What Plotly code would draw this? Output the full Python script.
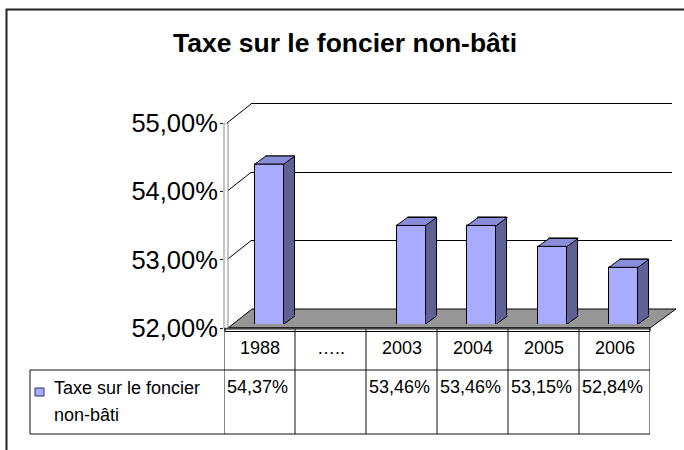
import plotly.graph_objects as go

# ---------------- data ----------------
TITLE = "Taxe sur le foncier non-bâti"
SERIES_NAME = "Taxe sur le foncier non-bâti"
LEGEND_LINES = ["Taxe sur le foncier", "non-bâti"]
CATEGORIES = ["1988", "…..", "2003", "2004", "2005", "2006"]
VALUES = [54.37, None, 53.46, 53.46, 53.15, 52.84]
Y_TICKS = [52, 53, 54, 55]
Y_MIN, Y_MAX = 52, 55


def pct(v):
    return f"{v:.2f}".replace(".", ",") + "%"


Y_TICKTEXT = [pct(v) for v in Y_TICKS]

# ---------------- style / geometry (pixels) ----------------
W, H = 684, 450
def fx(p): return p / W
def fy(p): return 1 - p / H

FONT = "Liberation Sans, Arial, sans-serif"
FRONT_COLOR = "#A9ABFE"
TOP_COLOR = "#8A8DDA"
SIDE_COLOR = "#5F6094"
FLOOR_COLOR = "#969696"

AX_L, AX_R = 224, 650          # front category axis / table columns
AX_TOP, AX_BOT = 123, 328      # front value axis (55% / 52%)
WALL_DX, WALL_DY = 24, 19      # depth of the back wall
WALL_R = 672
PAD = 0.1                      # small range pad so the top gridline is kept
PX_UNIT = (AX_BOT - AX_TOP) / (Y_MAX - Y_MIN)
BAR_L, BAR_R = 234, 659        # plane of the bars
BAR_TOP, BAR_BOT = 121.5, 324
BAR_DX, BAR_DY = 11, 8         # bar depth
BAR_W = 0.41
n = len(CATEGORIES)
HW = BAR_W * (BAR_R - BAR_L) / n / 2
TH_TOP, TR_TOP, T_BOT = 329, 370, 434
T_LEFT = 30

fig = go.Figure()

fig.add_trace(go.Scatter(x=[0], y=[53], xaxis="x", yaxis="y", showlegend=False,
                         mode="markers", marker=dict(opacity=0), hoverinfo="skip"))
fig.add_trace(go.Scatter(x=[0.5], y=[53], xaxis="x2", yaxis="y2", showlegend=False,
                         mode="markers", marker=dict(opacity=0), hoverinfo="skip"))

# back copy of bars (gives the side face), then front faces
fig.add_trace(go.Bar(x=list(range(n)), y=VALUES, width=BAR_W, xaxis="x3", yaxis="y3",
                     marker=dict(color=SIDE_COLOR, line=dict(color="black", width=1)),
                     showlegend=False, hoverinfo="skip"))
fig.add_trace(go.Bar(x=list(range(n)), y=VALUES, width=BAR_W, xaxis="x4", yaxis="y4",
                     name=SERIES_NAME,
                     marker=dict(color=FRONT_COLOR, line=dict(color="black", width=1)),
                     showlegend=False))

shapes = []
# outer frame
shapes.append(dict(type="rect", xref="paper", yref="paper", x0=fx(6.5), y0=fy(9.5),
                   x1=fx(W + 5), y1=fy(H + 5), line=dict(color="#222", width=2),
                   fillcolor="rgba(0,0,0,0)", layer="below"))
# floor
floor_path = (f"M{fx(AX_L+4)},{fy(AX_BOT)} L{fx(AX_R)},{fy(AX_BOT)} "
              f"L{fx(AX_R+WALL_DX+2)},{fy(AX_BOT-WALL_DY)} L{fx(AX_L+WALL_DX+4)},{fy(AX_BOT-WALL_DY)} Z")
shapes.append(dict(type="path", xref="paper", yref="paper", path=floor_path,
                   fillcolor=FLOOR_COLOR, line=dict(color="black", width=1), layer="below"))
shapes.append(dict(type="rect", xref="paper", yref="paper", x0=fx(AX_L+1), x1=fx(AX_R),
                   y0=fy(AX_BOT), y1=fy(AX_BOT+3.5), fillcolor="white",
                   line=dict(color="black", width=1), layer="below"))
# diagonal grid links front value axis -> back wall (positions in the value axis' domain)
DEPTH_FRAC = WALL_DY / (AX_BOT - AX_TOP)
for v in Y_TICKS[1:]:
    frac = (v - Y_MIN) / (Y_MAX - Y_MIN)
    shapes.append(dict(type="line", xref="paper", yref="y domain",
                       x0=fx(AX_L + 3), x1=fx(AX_L + 3 + WALL_DX),
                       y0=frac, y1=frac + DEPTH_FRAC,
                       line=dict(color="black", width=1), layer="above"))
# front value axis (double line)
shapes.append(dict(type="rect", xref="paper", yref="y", x0=fx(AX_L), x1=fx(AX_L+4),
                   y0=Y_MIN, y1=Y_MAX, fillcolor="white",
                   line=dict(color="#8a8a8a", width=1), layer="above"))

# 3D faces of bars
for i, v in enumerate(VALUES):
    if v is None:
        continue
    shapes.append(dict(type="path", xref="x4", yref="y4", xsizemode="pixel", ysizemode="pixel",
                       xanchor=i, yanchor=v,
                       path=f"M{-HW},0 L{HW},0 L{HW+BAR_DX},{BAR_DY} L{-HW+BAR_DX},{BAR_DY} Z",
                       fillcolor=TOP_COLOR, line=dict(color="black", width=1), layer="above"))
    shapes.append(dict(type="path", xref="x4", yref="y4", xsizemode="pixel", ysizemode="pixel",
                       xanchor=i, yanchor=Y_MIN,
                       path=f"M{HW},0 L{HW+BAR_DX},{BAR_DY} L{HW+BAR_DX},{BAR_DY+1} L{HW},{BAR_DY+1} Z",
                       fillcolor=SIDE_COLOR, line=dict(width=0), layer="above"))
    shapes.append(dict(type="path", xref="x4", yref="y4", xsizemode="pixel", ysizemode="pixel",
                       xanchor=i, yanchor=Y_MIN,
                       path=f"M{HW},0 L{HW+BAR_DX},{BAR_DY}",
                       line=dict(color="black", width=1), layer="above"))

# data table
TL = dict(color="#111", width=1)
shapes.append(dict(type="line", xref="x", yref="paper", x0=-0.5, x1=n - 0.5,
                   y0=fy(TH_TOP), y1=fy(TH_TOP), line=TL))
for k in range(n + 1):
    b = k - 0.5
    shapes.append(dict(type="line", xref="x", yref="paper", x0=b, x1=b,
                       y0=fy(TH_TOP), y1=fy(T_BOT), line=TL))
for yy in (TR_TOP, T_BOT):
    shapes.append(dict(type="line", xref="paper", yref="paper", x0=fx(T_LEFT), x1=fx(AX_R),
                       y0=fy(yy), y1=fy(yy), line=TL))
shapes.append(dict(type="line", xref="paper", yref="paper", x0=fx(T_LEFT), x1=fx(T_LEFT),
                   y0=fy(TR_TOP), y1=fy(T_BOT), line=TL))
# legend key
shapes.append(dict(type="rect", xref="paper", yref="paper", x0=fx(35), x1=fx(44),
                   y0=fy(396), y1=fy(388), fillcolor=FRONT_COLOR,
                   line=dict(color="#333366", width=1)))

annotations = []
for i, c in enumerate(CATEGORIES):
    annotations.append(dict(x=i, y=fy(348), xref="x", yref="paper", text=c, showarrow=False,
                            xanchor="center", yanchor="middle",
                            font=dict(family=FONT, size=18, color="black")))
for i, v in enumerate(VALUES):
    if v is None:
        continue
    annotations.append(dict(x=i - 0.5, y=fy(387), xref="x", yref="paper", text=pct(v),
                            showarrow=False, xanchor="left", yanchor="middle", xshift=1,
                            font=dict(family=FONT, size=18, color="black")))
for j, line in enumerate(LEGEND_LINES):
    annotations.append(dict(x=fx(52), y=fy(388 + 27 * j), xref="paper", yref="paper",
                            text=line, showarrow=False, xanchor="left", yanchor="middle",
                            font=dict(family=FONT, size=18, color="black")))

fig.update_layout(
    template="none",
    width=W, height=H, margin=dict(l=0, r=0, t=0, b=0, pad=0, autoexpand=False),
    paper_bgcolor="white", plot_bgcolor="rgba(0,0,0,0)",
    font=dict(family=FONT, color="black"),
    title=dict(text=TITLE, x=fx(345), y=fy(43), xanchor="center", yanchor="middle",
               font=dict(family=FONT, size=26.5, color="black", weight="bold")),
    xaxis=dict(domain=[fx(AX_L), fx(AX_R)], range=[-0.5, n - 0.5], anchor="y",
               showgrid=False, zeroline=False, showticklabels=False, ticks="",
               automargin=False),
    yaxis=dict(domain=[fy(AX_BOT), fy(AX_TOP)], range=[Y_MIN, Y_MAX], anchor="x",
               tickvals=Y_TICKS, ticktext=Y_TICKTEXT, ticks="outside",
               ticklen=3, tickcolor="#222", showgrid=False, zeroline=False, showline=False,
               ticklabelstandoff=-3,
               tickfont=dict(family=FONT, size=25.5, color="black"), automargin=False),
    xaxis2=dict(domain=[fx(AX_L + WALL_DX + 3), fx(WALL_R)], range=[0, 1], anchor="y2",
                visible=False, automargin=False),
    yaxis2=dict(domain=[fy(AX_BOT - WALL_DY), fy(AX_TOP - WALL_DY - PAD * PX_UNIT)],
                range=[Y_MIN, Y_MAX + PAD],
                anchor="x2", tickvals=Y_TICKS[1:], showgrid=True, gridcolor="black",
                gridwidth=1, showticklabels=False, ticks="", zeroline=False, showline=False,
                automargin=False),
    xaxis3=dict(domain=[fx(BAR_L + BAR_DX), fx(BAR_R + BAR_DX)], range=[-0.5, n - 0.5],
                anchor="y3", visible=False, automargin=False),
    yaxis3=dict(domain=[fy(BAR_BOT - BAR_DY), fy(BAR_TOP - BAR_DY)], range=[Y_MIN, Y_MAX],
                anchor="x3", visible=False, automargin=False),
    xaxis4=dict(domain=[fx(BAR_L), fx(BAR_R)], range=[-0.5, n - 0.5], anchor="y4",
                visible=False, automargin=False),
    yaxis4=dict(domain=[fy(BAR_BOT), fy(BAR_TOP)], range=[Y_MIN, Y_MAX], anchor="x4",
                visible=False, automargin=False),
    shapes=shapes, annotations=annotations, showlegend=False, bargap=0,
)

fig.write_html("out.html", config={"displayModeBar": False},
               post_script="document.body.style.margin='0';document.body.style.overflow='hidden';")
